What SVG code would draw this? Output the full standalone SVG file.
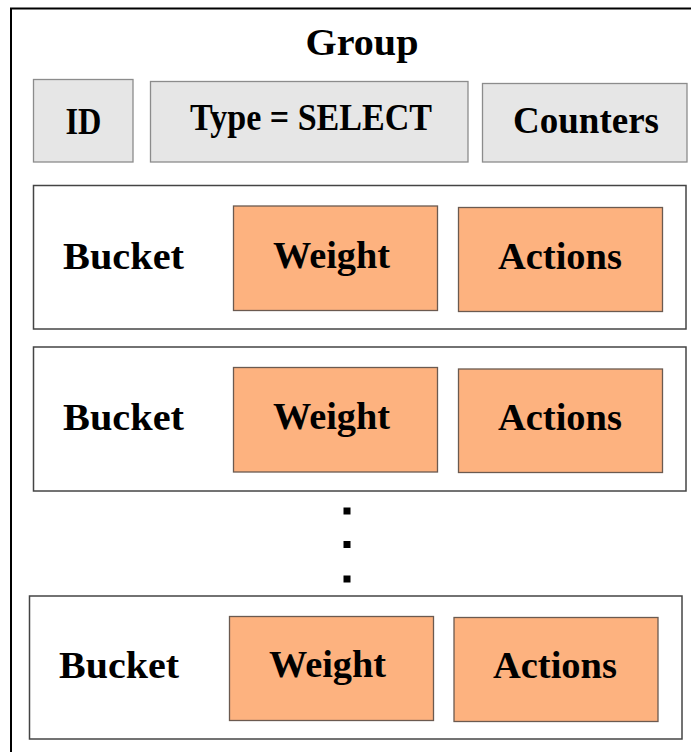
<svg xmlns="http://www.w3.org/2000/svg" width="691" height="752" viewBox="0 0 691 752">
<style>
text{font-family:"Liberation Serif","Times New Roman",serif;font-weight:bold;font-size:37px;fill:#000}
.hdr{fill:#e6e6e6;stroke:#8c8c8c;stroke-width:1.3}
.bk{fill:#fff;stroke:#444;stroke-width:1.5}
.or{fill:#fdb27f;stroke:#6b5a50;stroke-width:1.3}
.dot{fill:#000}
</style>
<rect width="691" height="752" fill="#fff"/>
<g id="frame">
<path d="M11,760 V8.5 H700" fill="none" stroke="#000" stroke-width="2"/>
<text x="362" y="55" text-anchor="middle" textLength="113" lengthAdjust="spacingAndGlyphs">Group</text>
</g>
<g id="id">
<rect class="hdr" x="33.5" y="79.5" width="99.5" height="82.5"/>
<text x="83.5" y="134" text-anchor="middle" textLength="36" lengthAdjust="spacingAndGlyphs">ID</text>
</g>
<g id="type">
<rect class="hdr" x="150.5" y="81.5" width="317.5" height="80.5"/>
<text x="311" y="130" text-anchor="middle" textLength="242" lengthAdjust="spacingAndGlyphs">Type = SELECT</text>
</g>
<g id="counters">
<rect class="hdr" x="482.5" y="83.5" width="204.5" height="78.5"/>
<text x="586" y="133" text-anchor="middle" textLength="146" lengthAdjust="spacingAndGlyphs">Counters</text>
</g>
<g id="bucket1">
<rect class="bk" x="33.5" y="185.5" width="652.5" height="143.5"/>
<text x="63" y="269" textLength="121" lengthAdjust="spacingAndGlyphs">Bucket</text>
<rect class="or" x="233.5" y="206" width="204" height="104.5"/>
<text x="331.5" y="267.5" text-anchor="middle" textLength="117" lengthAdjust="spacingAndGlyphs">Weight</text>
<rect class="or" x="458.5" y="207.5" width="204" height="104"/>
<text x="560" y="268.5" text-anchor="middle" textLength="124" lengthAdjust="spacingAndGlyphs">Actions</text>
</g>
<g id="bucket2">
<rect class="bk" x="33.5" y="347" width="652.5" height="144"/>
<text x="63" y="430" textLength="121" lengthAdjust="spacingAndGlyphs">Bucket</text>
<rect class="or" x="233.5" y="367.5" width="204" height="104.5"/>
<text x="331.5" y="429" text-anchor="middle" textLength="117" lengthAdjust="spacingAndGlyphs">Weight</text>
<rect class="or" x="458.5" y="369" width="204" height="103.5"/>
<text x="560" y="430" text-anchor="middle" textLength="124" lengthAdjust="spacingAndGlyphs">Actions</text>
</g>
<g id="ellipsis">
<rect class="dot" x="343.5" y="507.5" width="7" height="7"/>
<rect class="dot" x="343.5" y="541" width="7" height="7"/>
<rect class="dot" x="343.5" y="575.5" width="7" height="7"/>
</g>
<g id="bucket3">
<rect class="bk" x="29.5" y="596" width="652.5" height="143"/>
<text x="59" y="678" textLength="120" lengthAdjust="spacingAndGlyphs">Bucket</text>
<rect class="or" x="229.5" y="616.5" width="204" height="104"/>
<text x="327.5" y="677" text-anchor="middle" textLength="117" lengthAdjust="spacingAndGlyphs">Weight</text>
<rect class="or" x="454" y="617.5" width="204" height="104"/>
<text x="555" y="677.5" text-anchor="middle" textLength="124" lengthAdjust="spacingAndGlyphs">Actions</text>
</g>
<g id="connectors"></g>
</svg>
